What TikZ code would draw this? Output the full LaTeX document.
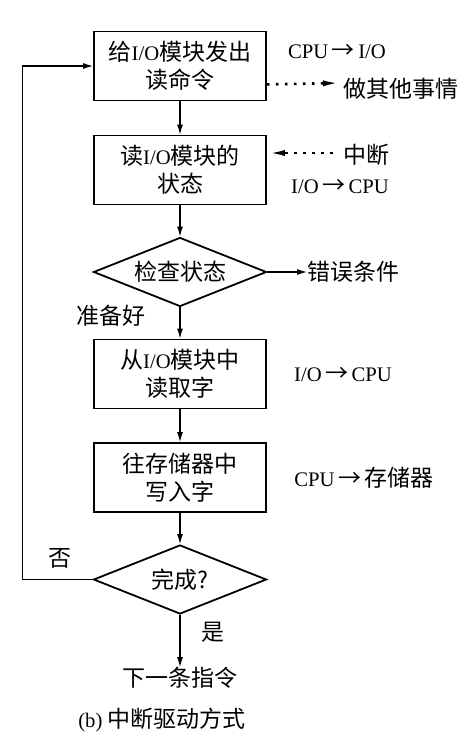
\documentclass[tikz,border=0pt]{standalone}
\usepackage{fontspec}
\setmainfont{Liberation Serif}[Scale=0.9]
\newfontfamily\cjk{Noto Sans CJK SC}
\usetikzlibrary{shapes.geometric,arrows.meta}
\newcommand{\zh}[1]{{\cjk #1}}
\newcommand{\toarrow}{\,{\cjk →}\,}
\begin{document}
\begin{tikzpicture}[x=1pt,y=-1pt,
  every node/.style={font=\fontsize{23}{28}\selectfont, inner sep=0pt},
  box/.style={draw, line width=1.8pt, minimum width=172pt, minimum height=69pt, align=center},
  dia/.style={draw, diamond, aspect=2.5, line width=1.8pt, minimum width=173pt, minimum height=69pt, inner sep=0pt},
  arr/.style={line width=1.2pt, -{Latex[length=10pt,width=6pt]}},
  dotarr/.style={line width=2.6pt, dash pattern=on 2.6pt off 6.4pt, -{Latex[length=18pt,width=6pt]}}]
\useasboundingbox (0,0) rectangle (470,743);
\fill[white] (0,0) rectangle (470,743);

\node[box] (b1) at (180,66) {\zh{给}I/O\zh{模块发出}\\\zh{读命令}};
\node[box] (b2) at (180,170) {\zh{读}I/O\zh{模块的}\\\zh{状态}};
\node[dia] (d1) at (180,272) {\zh{检查状态}};
\node[box] (b3) at (180,374) {\zh{从}I/O\zh{模块中}\\\zh{读取字}};
\node[box] (b4) at (180,477.5) {\zh{往存储器中}\\\zh{写入字}};
\node[dia] (d2) at (180,579.5) {\zh{完成?}};
\node (next) at (180,678) {\zh{下一条指令}};
\node (cap) at (162,720) {(b) \zh{中断驱动方式}};

\node (l1) at (337,52) {CPU\toarrow I/O};
\node[anchor=west] (l2) at (343,89) {\zh{做其他事情}};
\node[anchor=west] (l3) at (343,155) {\zh{中断}};
\node (l4) at (340,187) {I/O\toarrow CPU};
\node[anchor=west] (err) at (307,272) {\zh{错误条件}};
\node (ready) at (111,316) {\zh{准备好}};
\node (l5) at (343,375) {I/O\toarrow CPU};
\node (l6) at (364,478) {CPU\toarrow\zh{存储器}};
\node (no) at (60,558) {\zh{否}};
\node (yes) at (213,632) {\zh{是}};

\coordinate (c1) at (341,83);
\coordinate (c2) at (333,153);

\draw[arr] (b1) -- (b2);
\draw[arr] (b2) -- (d1);
\draw[arr] (d1) -- (b3);
\draw[arr] (b3) -- (b4);
\draw[arr] (b4) -- (d2);
\draw[arr] (d2) -- (next);
\draw[arr] (d1.east) -- (err.west);
\draw[arr] (d2.west) -- ++(-70,0) |- (b1.west);
\draw[dotarr] ([yshift=17pt]b1.south east) -- (c1);
\draw[dotarr] (c2) -- ([yshift=17pt]b2.east);
\end{tikzpicture}
\end{document}
